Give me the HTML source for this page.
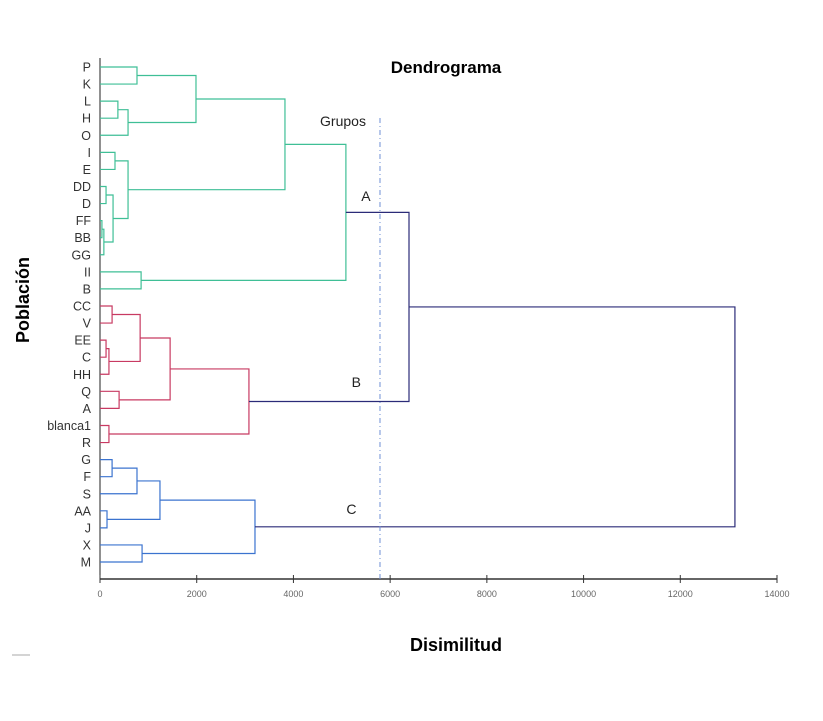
<!DOCTYPE html>
<html><head><meta charset="utf-8"><style>
body{margin:0;background:#fff;}
svg{display:block;font-family:"Liberation Sans",sans-serif;}
</style></head><body>
<svg id="c" width="823" height="721">
<text x="446" y="73" text-anchor="middle" font-size="17" font-weight="bold">Dendrograma</text>
<text x="456" y="651" text-anchor="middle" font-size="18" font-weight="bold">Disimilitud</text>
<text transform="translate(29,300) rotate(-90)" text-anchor="middle" font-size="18" font-weight="bold">Población</text>
<line x1="12" y1="655" x2="30" y2="655" stroke="#aaa" stroke-width="1"/>
<g id="plot"></g>
</svg>
<script>
const leaves=["P","K","L","H","O","I","E","DD","D","FF","BB","GG","II","B","CC","V","EE","C","HH","Q","A","blanca1","R","G","F","S","AA","J","X","M"];
const mergeLeft=[0,2,31,30,5,7,9,36,35,34,33,12,40,14,16,44,43,19,46,21,48,23,51,26,52,28,54,42,57];
const mergeRight=[1,3,4,32,6,8,10,11,37,38,39,13,41,15,17,18,45,20,47,22,49,24,25,27,53,29,55,50,56];
const mergeHeight=[765,370,580,1985,310,125,40,80,270,580,3825,850,5085,250,125,185,830,395,1450,185,3080,250,765,145,1240,870,3205,6390,13130];
const mergeGroup=["g","g","g","g","g","g","g","g","g","g","g","g","g","r","r","r","r","r","r","r","r","b","b","b","b","b","b","n","n"];
const xTicks=[0,2000,4000,6000,8000,10000,12000,14000];
const cutValue=5790;
const groupLabels=["A","B","C"];
const groupLabelValues=[5500,5300,5200];
const colors={g:"#3fbf96",r:"#c83a62",b:"#3b73cf",n:"#2b2b78"};
const NS="http://www.w3.org/2000/svg";
const plot=document.getElementById('plot');
const X=v=>100+v*(677/14000);
const Y=i=>67+i*17.07;
function mk(t,a,p){const e=document.createElementNS(NS,t);for(const k in a)e.setAttribute(k,a[k]);(p||plot).appendChild(e);return e;}
let ya=mk('line',{x1:100,y1:58,x2:100,y2:579,stroke:'#222','stroke-width':1});


let xa=mk('line',{x1:100,y1:579,x2:X(14000),y2:579,stroke:'#666','stroke-width':2});


xTicks.forEach(t=>{
 const tk=mk('line',{x1:X(t),y1:575,x2:X(t),y2:583,stroke:'#333','stroke-width':1});
 
 
 const tl=mk('text',{x:X(t),y:597,'text-anchor':'middle','font-size':9,fill:'#666'});
 tl.textContent=t;
 
 
});
leaves.forEach((l,i)=>{
 const t=mk('text',{x:91,y:Y(i)+4.5,'text-anchor':'end','font-size':12.5,fill:'#333'});
 t.textContent=l;
 
 
});
const ny=[],nx=[];
leaves.forEach((l,i)=>{ny[i]=Y(i);nx[i]=X(0);});
mergeHeight.forEach((h,k)=>{
 const a=mergeLeft[k],b=mergeRight[k],id=leaves.length+k;
 const x=X(h);ny[id]=(ny[a]+ny[b])/2;nx[id]=x;
 const p=mk('path',{d:`M${nx[a]},${ny[a]}H${x}V${ny[b]}H${nx[b]}`,fill:'none',stroke:colors[mergeGroup[k]],'stroke-width':1.2});
 
 
});
const cl=mk('line',{x1:X(cutValue),y1:118,x2:X(cutValue),y2:579,stroke:'#6f8fd6','stroke-width':1,'stroke-dasharray':'5,3,1,3'});


const gt=mk('text',{x:343,y:126,'text-anchor':'middle','font-size':14,fill:'#222'});
gt.textContent='Grupos';


const gy=[201,387,514];
groupLabels.forEach((g,i)=>{
 const t=mk('text',{x:X(groupLabelValues[i]),y:gy[i],'text-anchor':'middle','font-size':14,fill:'#222'});
 t.textContent=g;
 
 
});
</script>
</body></html>
